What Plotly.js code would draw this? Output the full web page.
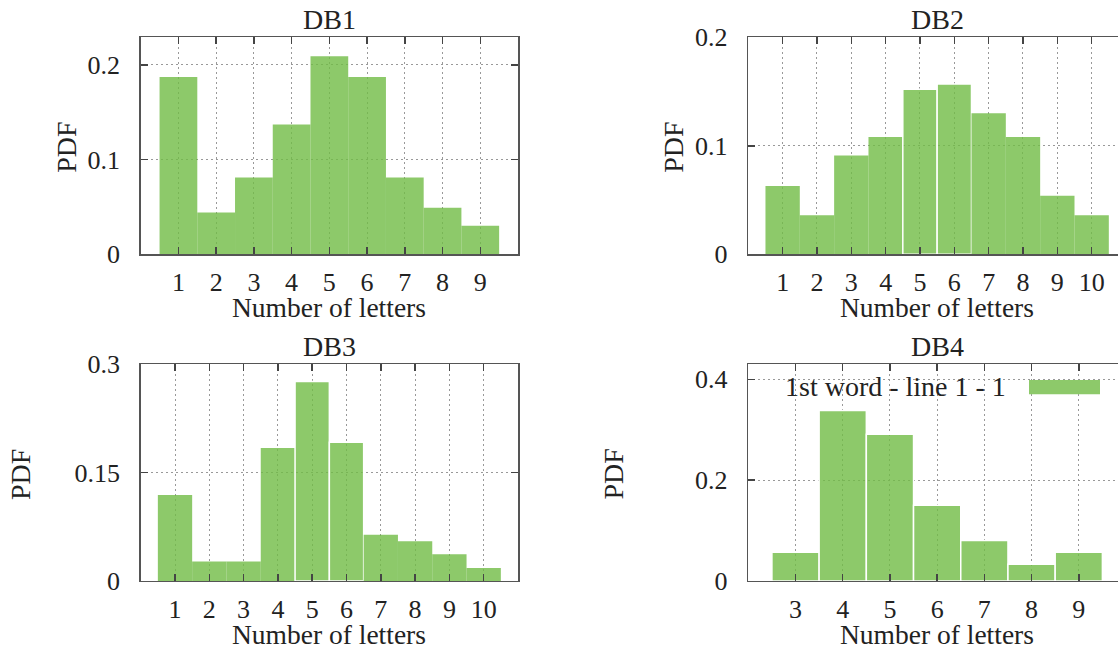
<!DOCTYPE html>
<html>
<head>
<meta charset="utf-8">
<script src="https://cdn.plot.ly/plotly-3.0.1.min.js"></script>
<style>
  html, body { margin: 0; padding: 0; overflow: hidden; background: #fff; }
  #chart { width: 1140px; height: 649px; }
</style>
</head>
<body>
<div id="chart"></div>
<script>
// Word-length distributions (PDF of the number of letters) for four databases
const db1Letters = [1, 2, 3, 4, 5, 6, 7, 8, 9];
const db1Pdf     = [0.187, 0.044, 0.081, 0.137, 0.209, 0.187, 0.081, 0.049, 0.030];

const db2Letters = [1, 2, 3, 4, 5, 6, 7, 8, 9, 10];
const db2Pdf     = [0.063, 0.036, 0.091, 0.108, 0.152, 0.157, 0.130, 0.108, 0.054, 0.036];

const db3Letters = [1, 2, 3, 4, 5, 6, 7, 8, 9, 10];
const db3Pdf     = [0.119, 0.027, 0.027, 0.184, 0.276, 0.192, 0.064, 0.055, 0.037, 0.018];

const db4Letters = [3, 4, 5, 6, 7, 8, 9];
const db4Pdf     = [0.057, 0.338, 0.291, 0.150, 0.080, 0.033, 0.057];

const panelTitles = ['DB1', 'DB2', 'DB3', 'DB4'];
const xTitle = 'Number of letters';
const yTitle = 'PDF';
const legendLabel = '1st word - line 1 - 1';

// ---- layout geometry (pixels) ----
const W = 1140, H = 649;
const COLS = [[140.7, 518], [748.3, 1126]];
const ROWS = [[37.3, 254.2], [364.2, 580.9]];
const px = x => x / W;
const py = y => 1 - y / H;

const FONT = 'Liberation Serif, Times New Roman, serif';
const TXT = '#222';
const BAR_FILL = 'rgba(113,188,69,0.8)';
const BAR_SOLID = '#8dc96a';

const panels = [
  { letters: db1Letters, pdf: db1Pdf, xRange: [0, 10], yRange: [0, 0.229],
    yTicks: [0, 0.1, 0.2], col: 0, row: 0, yLabelX: 67, separated: [] },
  { letters: db2Letters, pdf: db2Pdf, xRange: [0, 11], yRange: [0, 0.2],
    yTicks: [0, 0.1, 0.2], col: 1, row: 0, yLabelX: 674, separated: [5, 6] },
  { letters: db3Letters, pdf: db3Pdf, xRange: [0, 11], yRange: [0, 0.3],
    yTicks: [0, 0.15, 0.3], col: 0, row: 1, yLabelX: 20.5, separated: [5, 6] },
  { letters: db4Letters, pdf: db4Pdf, xRange: [2, 10], yRange: [0, 0.43],
    yTicks: [0, 0.2, 0.4], col: 1, row: 1, yLabelX: 614, separated: db4Letters }
];

function axisBase() {
  return {
    showline: true, linecolor: '#555', linewidth: 1.5, mirror: 'allticks',
    ticks: 'inside', ticklen: 7, tickwidth: 1.5, tickcolor: '#444',
    showgrid: true, gridcolor: '#999', gridwidth: 1, griddash: '2px,3px',
    zeroline: false, fixedrange: true,
    tickfont: { family: FONT, size: 26, color: TXT }
  };
}

const traces = [];
const layout = {
  width: W, height: H,
  margin: { l: 0, r: 0, t: 0, b: 0 },
  paper_bgcolor: '#fff', plot_bgcolor: '#fff',
  showlegend: false,
  bargap: 0,
  annotations: [], shapes: []
};

panels.forEach((p, i) => {
  const n = i === 0 ? '' : String(i + 1);
  const xa = 'xaxis' + n, ya = 'yaxis' + n;
  const [x0, x1] = COLS[p.col];
  const [y0, y1] = ROWS[p.row];

  traces.push({
    type: 'bar',
    x: p.letters, y: p.pdf, width: 1,
    xaxis: 'x' + n, yaxis: 'y' + n,
    marker: {
      color: BAR_FILL,
      line: { color: '#fff', width: p.letters.map(v => p.separated.includes(v) ? 1.5 : 0) }
    },
    hoverinfo: 'x+y'
  });

  layout[xa] = Object.assign(axisBase(), {
    domain: [px(x0), px(x1)], range: p.xRange, anchor: 'y' + n,
    tickmode: 'array', tickvals: p.letters, ticktext: p.letters.map(String),
    ticklabelstandoff: 4
  });
  layout[ya] = Object.assign(axisBase(), {
    domain: [py(y1), py(y0)], range: p.yRange, anchor: 'x' + n,
    tickmode: 'array', tickvals: p.yTicks, ticktext: p.yTicks.map(String),
    ticklabelstandoff: 14
  });

  const cx = (x0 + x1) / 2;
  const cy = (y0 + y1) / 2;
  // panel title
  layout.annotations.push({
    text: panelTitles[i], xref: 'paper', yref: 'paper',
    x: px(cx), y: py(y0 - 17.5), xanchor: 'center', yanchor: 'middle',
    showarrow: false, font: { family: FONT, size: 28, color: TXT }
  });
  // x-axis title
  layout.annotations.push({
    text: xTitle, xref: 'paper', yref: 'paper',
    x: px(cx), y: py(y1 + 53.5), xanchor: 'center', yanchor: 'middle',
    showarrow: false, font: { family: FONT, size: 27.5, color: TXT }
  });
  // y-axis title
  layout.annotations.push({
    text: yTitle, xref: 'paper', yref: 'paper', textangle: -90,
    x: px(p.yLabelX), y: py(cy + 2), xanchor: 'center', yanchor: 'middle',
    showarrow: false, font: { family: FONT, size: 28, color: TXT }
  });
});

// key for the series, drawn inside the DB4 panel
layout.annotations.push({
  text: legendLabel, xref: 'paper', yref: 'paper',
  x: px(1008), y: py(386.7), xanchor: 'right', yanchor: 'middle',
  showarrow: false, font: { family: FONT, size: 28, color: TXT }
});
layout.shapes.push({
  type: 'rect', xref: 'paper', yref: 'paper',
  x0: px(1029), x1: px(1100), y0: py(394.3), y1: py(380),
  fillcolor: BAR_SOLID, line: { width: 0 }
});

Plotly.newPlot('chart', traces, layout, { displayModeBar: false, staticPlot: true });
</script>
</body>
</html>
